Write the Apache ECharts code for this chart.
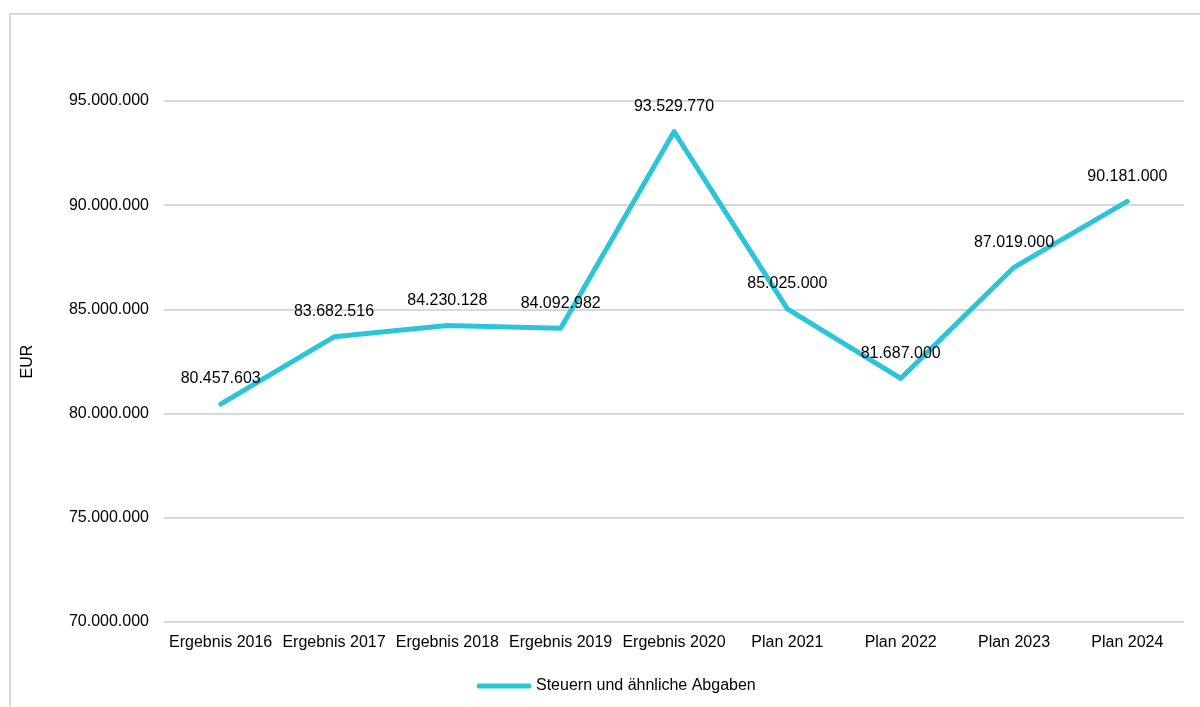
<!DOCTYPE html>
<html><head><meta charset="utf-8">
<script src="https://cdn.jsdelivr.net/npm/echarts@6/dist/echarts.min.js"></script>
<style>html,body{margin:0;padding:0;background:#fff}#c{width:1200px;height:707px}</style>
</head><body><div id="c"></div>
<script>
const categories = ['Ergebnis 2016','Ergebnis 2017','Ergebnis 2018','Ergebnis 2019','Ergebnis 2020','Plan 2021','Plan 2022','Plan 2023','Plan 2024'];
const values = [80457603, 83682516, 84230128, 84092982, 93529770, 85025000, 81687000, 87019000, 90181000];
const seriesName = 'Steuern und ähnliche Abgaben';
const yMin = 70000000, yMax = 95000000, yStep = 5000000;

function fmt(v){ return String(Math.round(v)).replace(/\B(?=(\d{3})+(?!\d))/g,'.'); }

const chart = echarts.init(document.getElementById('c'), null, {renderer:'canvas'});
const font = 'Liberation Sans, Arial, sans-serif';
const lineColor = '#2bc4d9';
chart.setOption({
  animation:false,
  textStyle:{fontFamily:font},
  graphic:[{type:'rect',shape:{x:10,y:14,width:1200,height:720},style:{fill:'none',stroke:'#d9d9d9',lineWidth:2},z:-1}],
  grid:{left:164,right:16,top:101,bottom:85},
  legend:{bottom:8,left:472,itemWidth:54,itemHeight:5,icon:'roundRect',itemGap:10,
    itemStyle:{color:lineColor,opacity:1},
    textStyle:{fontSize:16,color:'#000',fontFamily:font},data:[seriesName]},
  xAxis:{type:'category',data:categories,boundaryGap:true,
    axisLine:{show:false},axisTick:{show:false},
    axisLabel:{fontSize:16,color:'#000',margin:13,fontFamily:font,interval:0}},
  yAxis:{type:'value',min:yMin,max:yMax,interval:yStep,name:'EUR',nameLocation:'middle',nameGap:128,
    nameTextStyle:{fontSize:16,color:'#000',fontFamily:font},
    axisLine:{show:false},axisTick:{show:false},
    axisLabel:{fontSize:16,color:'#000',margin:15,formatter:fmt,fontFamily:font},
    splitLine:{lineStyle:{color:'#d9d9d9',width:2}}},
  series:[{name:seriesName,type:'line',data:values,showSymbol:true,symbol:'circle',symbolSize:2,
    lineStyle:{color:lineColor,width:5,cap:'round',join:'round'},itemStyle:{color:lineColor},
    label:{show:true,position:'top',distance:16,fontSize:16,color:'#000',formatter:p=>fmt(p.value),fontFamily:font}}]
});
</script></body></html>
